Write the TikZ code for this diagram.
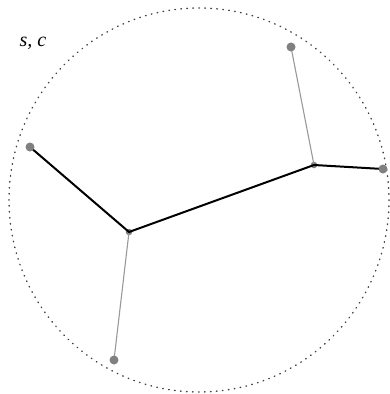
\documentclass[tikz,border=0pt]{standalone}
\usepackage{fontspec}
\setmainfont{Liberation Serif}
\begin{document}
\begin{tikzpicture}[x=1pt,y=-1pt,
  thickedge/.style={line width=2pt,black},
  thinedge/.style={line width=1.1pt,gray!80},
  enddot/.style={circle,fill=gray,inner sep=0pt,minimum size=9pt},
  jdot/.style={circle,fill=gray,inner sep=0pt,minimum size=6.5pt},
  boundary/.style={line width=1.4pt,dash pattern=on 0.6pt off 5.4pt,line cap=round,black!75}]
\useasboundingbox (0,0) rectangle (389,394);
\draw[boundary] (199,200) ellipse [x radius=190, y radius=192];
\coordinate (A) at (30,147);
\coordinate (B) at (129,232);
\coordinate (C) at (114,360);
\coordinate (D) at (314,165);
\coordinate (E) at (291,47);
\coordinate (F) at (383,169);
\node[jdot] (Bd) at (B) {};
\node[jdot] (Dd) at (D) {};
\draw[thinedge] (B) -- (C);
\draw[thinedge] (D) -- (E);
\draw[thickedge] (A) -- (B) -- (D) -- (F);
\node[enddot] (Ad) at (A) {};
\node[enddot] (Cd) at (C) {};
\node[enddot] (Ed) at (E) {};
\node[enddot] (Fd) at (F) {};
\node[font=\fontsize{20}{22}\selectfont\itshape] (lab) at (33,43) {s, c};
\end{tikzpicture}
\end{document}
